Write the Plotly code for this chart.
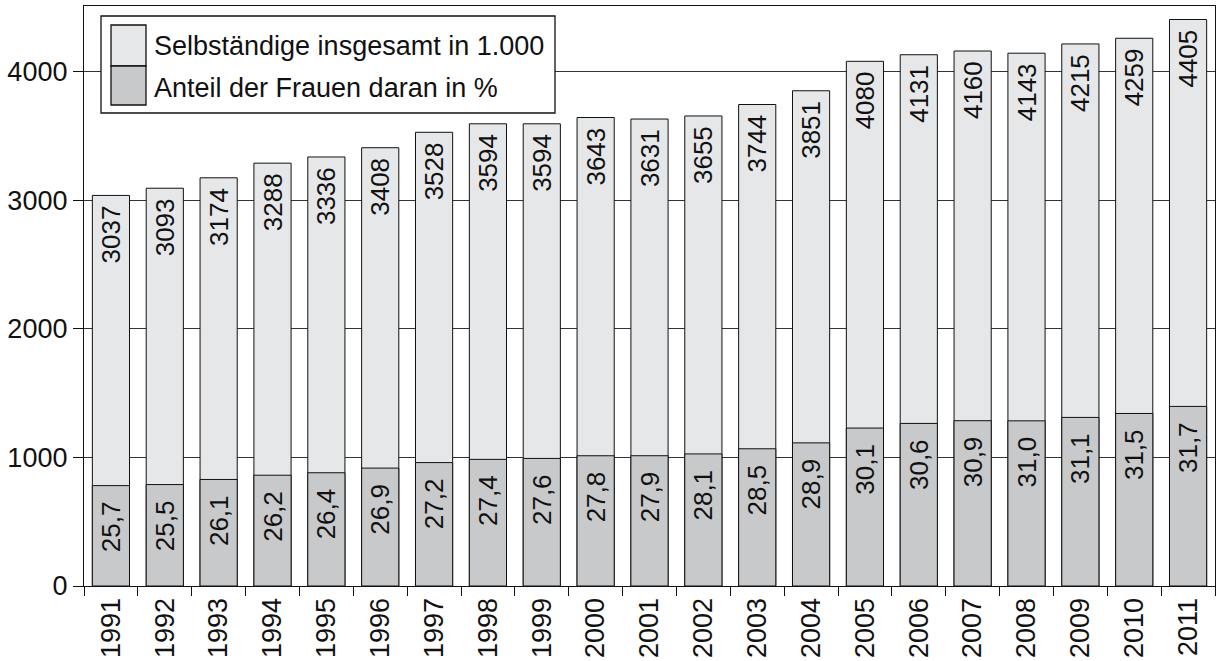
import plotly.graph_objects as go

years = [str(y) for y in range(1991, 2012)]
totals = [3037, 3093, 3174, 3288, 3336, 3408, 3528, 3594, 3594, 3643, 3631,
          3655, 3744, 3851, 4080, 4131, 4160, 4143, 4215, 4259, 4405]
women_pct = [25.7, 25.5, 26.1, 26.2, 26.4, 26.9, 27.2, 27.4, 27.6, 27.8, 27.9,
             28.1, 28.5, 28.9, 30.1, 30.6, 30.9, 31.0, 31.1, 31.5, 31.7]
yticks = [0, 1000, 2000, 3000, 4000]
legend_labels = ["Selbständige insgesamt in 1.000", "Anteil der Frauen daran in %"]

women_abs = [t * p / 100 for t, p in zip(totals, women_pct)]
# trailing spaces give the gap between bar top and label seen in the reference
total_text = [f"{t}\u00a0" for t in totals]
pct_text = [f"{p:.1f}".replace(".", ",") + "\u2002" for p in women_pct]

LIGHT = "#e6e7e9"
DARK = "#c8c9cb"
INK = "#111"
FONT = "Liberation Sans, Arial, sans-serif"
FS = 27
FS_BAR = 26

fig = go.Figure()
fig.add_trace(go.Bar(
    x=years, y=totals, name=legend_labels[0],
    marker=dict(color=LIGHT, line=dict(color=INK, width=1)),
    text=total_text, textposition="inside", textangle=-90,
    insidetextanchor="end", constraintext="none",
    textfont=dict(family=FONT, size=FS_BAR, color=INK),
))
fig.add_trace(go.Bar(
    x=years, y=women_abs, name=legend_labels[1],
    marker=dict(color=DARK, line=dict(color=INK, width=1)),
    text=pct_text, textposition="inside", textangle=-90,
    insidetextanchor="end", constraintext="none",
    textfont=dict(family=FONT, size=FS_BAR, color=INK),
))

W, H = 1220, 661
L, R, T, B = 84, 5, 6, 75
pw, ph = W - L - R, H - T - B


def px(x):
    return (x - L) / pw


def py(y):
    return (H - B - y) / ph


shapes = [
    dict(type="rect", xref="paper", yref="paper", x0=px(101), x1=px(555), y0=py(113), y1=py(16),
         fillcolor="white", line=dict(color=INK, width=1.3), layer="above"),
    dict(type="rect", xref="paper", yref="paper", x0=px(111), x1=px(146), y0=py(66), y1=py(25),
         fillcolor=LIGHT, line=dict(color=INK, width=1.3), layer="above"),
    dict(type="rect", xref="paper", yref="paper", x0=px(111), x1=px(146), y0=py(105), y1=py(66),
         fillcolor=DARK, line=dict(color=INK, width=1.3), layer="above"),
]
annotations = [
    dict(xref="paper", yref="paper", x=px(152), y=py(46), text=legend_labels[0], showarrow=False,
         xanchor="left", yanchor="middle", font=dict(family=FONT, size=FS, color=INK)),
    dict(xref="paper", yref="paper", x=px(152), y=py(88), text=legend_labels[1], showarrow=False,
         xanchor="left", yanchor="middle", font=dict(family=FONT, size=FS, color=INK)),
]

fig.update_layout(
    width=W, height=H,
    margin=dict(l=L, r=R, t=T, b=B, pad=0),
    paper_bgcolor="white", plot_bgcolor="white",
    barmode="overlay", bargap=0.31,
    showlegend=False,
    shapes=shapes, annotations=annotations,
    font=dict(family=FONT, size=FS, color=INK),
)
fig.update_xaxes(
    type="category", tickson="boundaries", ticks="outside", ticklen=9, tickcolor=INK,
    tickangle=-90, showline=True, linecolor=INK, linewidth=1.3, mirror=True,
    showgrid=False, automargin=False, tickfont=dict(family=FONT, size=FS, color=INK),
)
fig.update_yaxes(
    range=[0, 4510], tickvals=yticks, ticks="outside", ticklen=10, tickcolor=INK,
    showline=True, linecolor=INK, linewidth=1.3, mirror=True,
    showgrid=True, gridcolor="#333", gridwidth=1, zeroline=False, automargin=False,
    tickfont=dict(family=FONT, size=FS, color=INK),
)

fig.write_html(
    "out.html",
    config={"displayModeBar": False},
    post_script="document.body.style.margin='0';document.body.style.overflow='hidden';",
)
